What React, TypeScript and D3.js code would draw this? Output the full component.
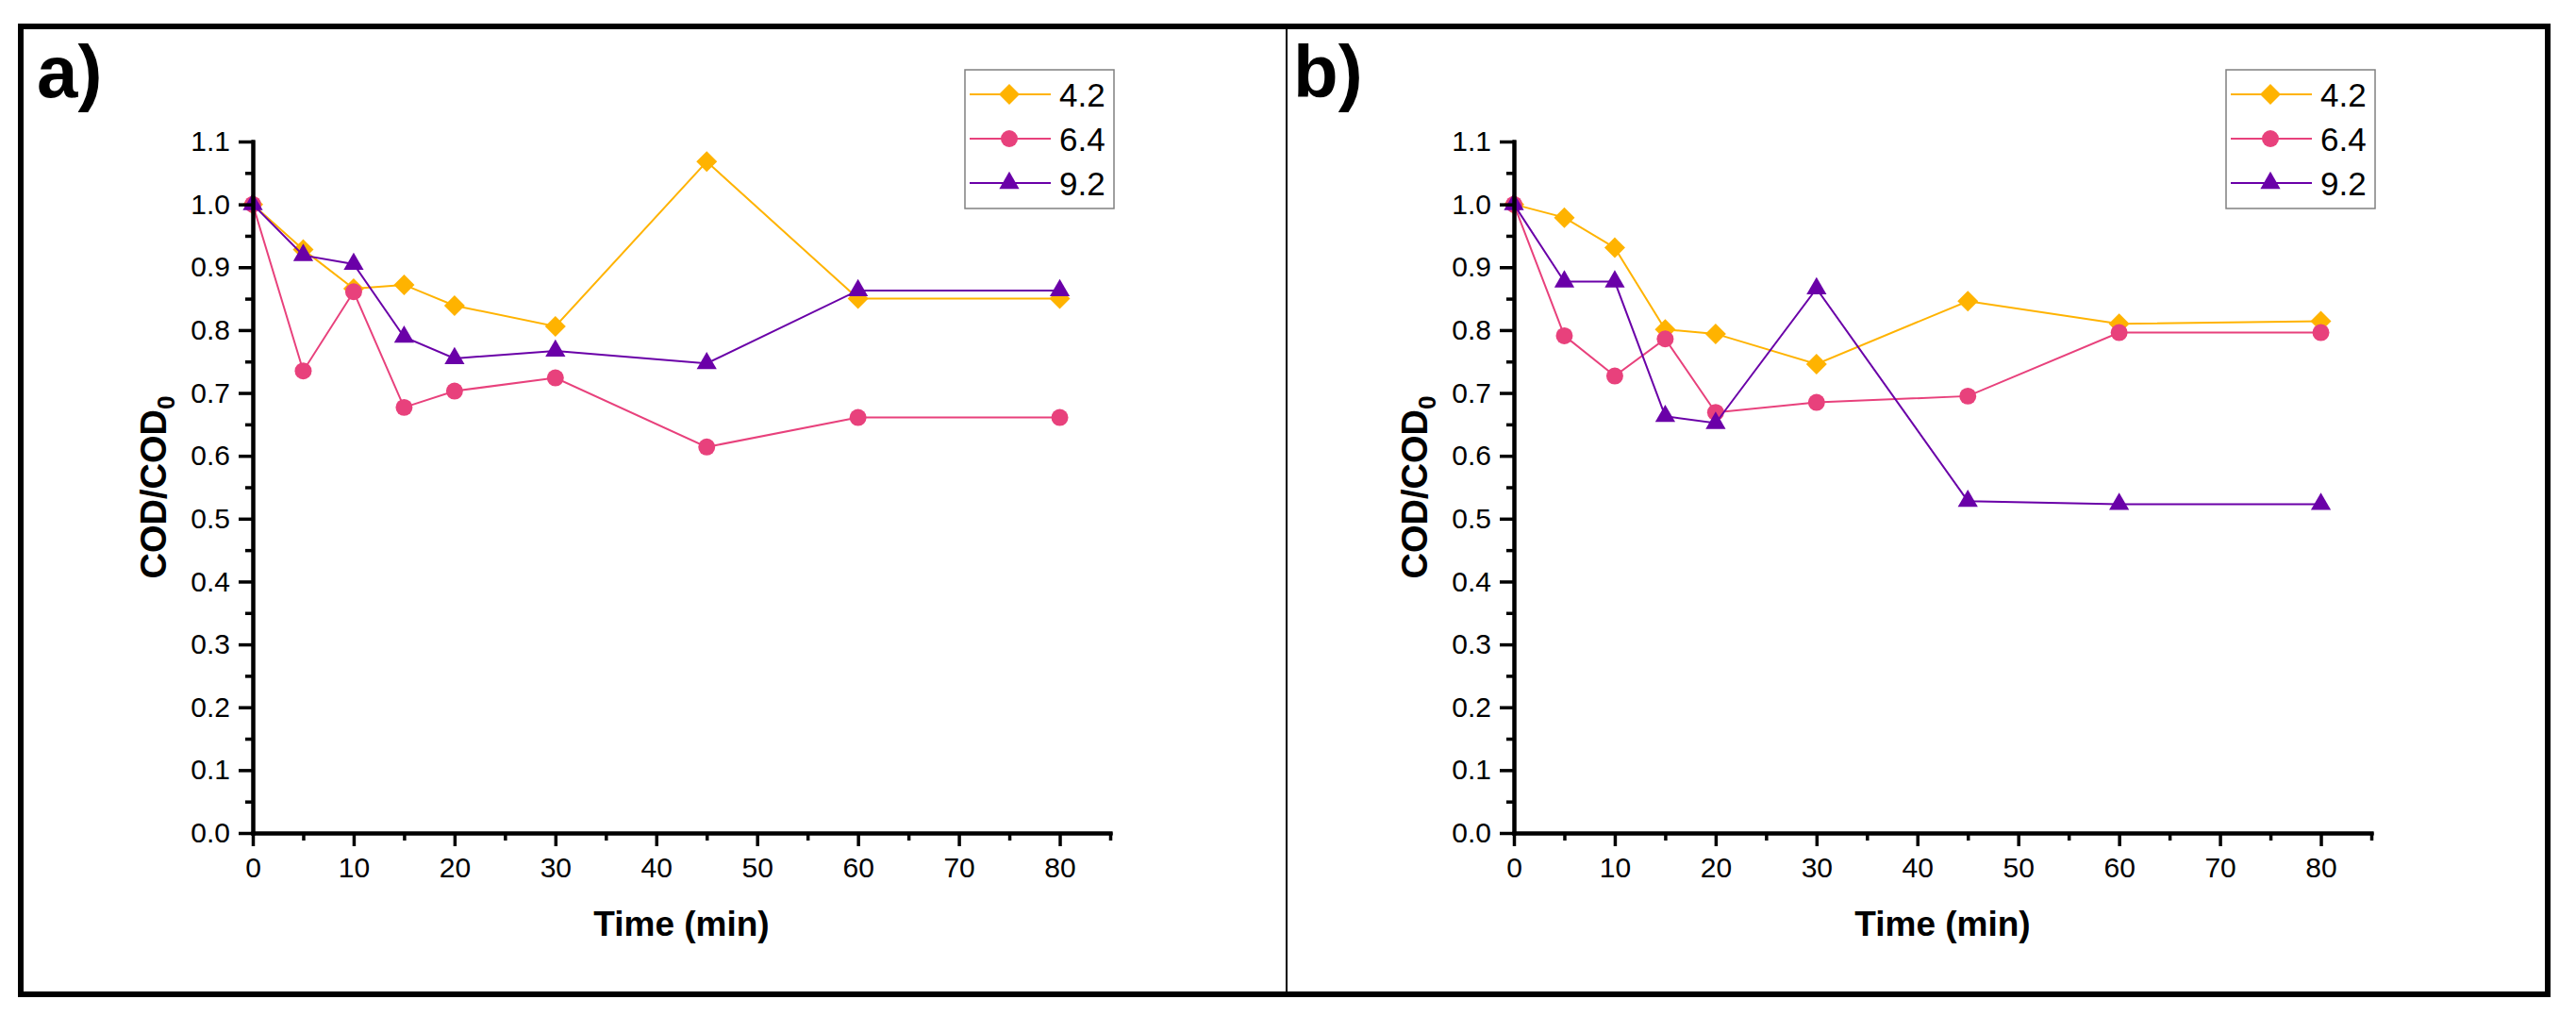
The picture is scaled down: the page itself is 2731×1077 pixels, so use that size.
import { useRef, useEffect } from 'react';
import * as d3 from 'd3';

// sampling times (min), shared by every series
const times = [0, 5, 10, 15, 20, 30, 45, 60, 80];
const seriesNames = ['4.2', '6.4', '9.2'];
const seriesColors = ['#FFB300', '#E8417C', '#6A00A8'];

// panel a) COD/COD0
const a42 = [1.0, 0.928, 0.866, 0.872, 0.839, 0.806, 1.068, 0.85, 0.85];
const a64 = [1.0, 0.735, 0.861, 0.677, 0.703, 0.724, 0.614, 0.661, 0.661];
const a92 = [1.0, 0.919, 0.905, 0.789, 0.755, 0.767, 0.747, 0.863, 0.863];

// panel b) COD/COD0
const b42 = [1.0, 0.979, 0.931, 0.801, 0.794, 0.746, 0.846, 0.81, 0.814];
const b64 = [1.0, 0.791, 0.727, 0.786, 0.669, 0.685, 0.695, 0.796, 0.796];
const b92 = [1.0, 0.877, 0.877, 0.663, 0.652, 0.866, 0.528, 0.523, 0.523];

const yTicks = [0, 0.1, 0.2, 0.3, 0.4, 0.5, 0.6, 0.7, 0.8, 0.9, 1.0, 1.1];
const yMinor = [0.05, 0.15, 0.25, 0.35, 0.45, 0.55, 0.65, 0.75, 0.85, 0.95, 1.05];
const xTicks = [0, 10, 20, 30, 40, 50, 60, 70, 80];
const xMinor = [5, 15, 25, 35, 45, 55, 65, 75, 85];

const FONT = '"Liberation Sans", Arial, Helvetica, sans-serif';

function drawPanel(
    svg: d3.Selection<SVGSVGElement, unknown, null, undefined>,
    left: number,
    tag: string,
    tagX: number,
    data: number[][]
) {
    const top = 150, bottom = 883, width = 909;

    const x = d3.scaleLinear().domain([0, 85]).range([left, left + width]);
    const y = d3.scaleLinear().domain([0, 1.1]).range([bottom, top]);

    const g = svg.append('g');

    // panel letter
    svg.append('text')
        .attr('x', tagX)
        .attr('y', 103)
        .style('font-family', FONT)
        .style('font-size', '78px')
        .style('font-weight', 'bold')
        .text(tag);

    // data: line then symbols, series by series
    const line = d3.line<number>()
        .x((_, i) => x(times[i]))
        .y(d => y(d));

    const symbols = [
        d3.symbol().type(d3.symbolSquare).size(242),
        d3.symbol().type(d3.symbolCircle).size(254),
        d3.symbol().type(d3.symbolTriangle).size(195),
    ];

    data.forEach((vals, s) => {
        g.append('path')
            .datum(vals)
            .attr('d', line)
            .attr('fill', 'none')
            .attr('stroke', seriesColors[s])
            .attr('stroke-width', 2);

        g.selectAll(null)
            .data(vals)
            .enter()
            .append('path')
            .attr('d', symbols[s]())
            .attr('transform', (d, i) =>
                `translate(${x(times[i])},${y(d)})` + (s === 0 ? ' rotate(45)' : ''))
            .attr('fill', seriesColors[s]);
    });

    // axes
    const yMinorAxis = d3.axisLeft(y).tickValues(yMinor).tickSize(8).tickSizeOuter(0).tickFormat(() => '');
    const yAxis = d3.axisLeft(y).tickValues(yTicks).tickSize(15).tickSizeOuter(0)
        .tickPadding(9).tickFormat(d3.format('.1f'));
    const xMinorAxis = d3.axisBottom(x).tickValues(xMinor).tickSize(8).tickSizeOuter(0).tickFormat(() => '');
    const xAxis = d3.axisBottom(x).tickValues(xTicks).tickSize(14).tickSizeOuter(0)
        .tickPadding(12).tickFormat(d3.format('d'));

    const axes = [
        svg.append('g').attr('transform', `translate(${left},0)`).call(yMinorAxis),
        svg.append('g').attr('transform', `translate(${left},0)`).call(yAxis),
        svg.append('g').attr('transform', `translate(0,${bottom})`).call(xMinorAxis),
        svg.append('g').attr('transform', `translate(0,${bottom})`).call(xAxis),
    ];
    axes.forEach(a => {
        a.selectAll('.domain').attr('stroke', '#000').attr('stroke-width', 4)
            .attr('stroke-linecap', 'square');
        a.selectAll('.tick line').attr('stroke', '#000').attr('stroke-width', 3.5);
        a.selectAll('.tick text')
            .attr('fill', '#000')
            .style('font-family', FONT)
            .style('font-size', '30px');
    });

    // axis titles
    svg.append('text')
        .attr('x', left + width / 2)
        .attr('y', 992)
        .attr('text-anchor', 'middle')
        .style('font-family', FONT)
        .style('font-size', '37px')
        .style('font-weight', 'bold')
        .text('Time (min)');

    const yt = svg.append('text')
        .attr('transform', `translate(${left - 92},${(top + bottom) / 2}) rotate(-90)`)
        .attr('text-anchor', 'middle')
        .style('font-family', FONT)
        .style('font-size', '38px')
        .style('font-weight', 'bold');
    yt.append('tspan').text('COD/COD');
    yt.append('tspan').attr('dy', 9).style('font-size', '26px').text('0');

    // legend
    const lg = svg.append('g').attr('transform', `translate(${left + 755},0)`);
    lg.append('rect')
        .attr('x', 0).attr('y', 74)
        .attr('width', 158).attr('height', 147)
        .attr('fill', '#fff')
        .attr('stroke', '#808080')
        .attr('stroke-width', 1.5);
    seriesNames.forEach((name, s) => {
        const ry = 100 + s * 47;
        lg.append('line')
            .attr('x1', 5).attr('x2', 91)
            .attr('y1', ry).attr('y2', ry)
            .attr('stroke', seriesColors[s])
            .attr('stroke-width', 2);
        lg.append('path')
            .attr('d', symbols[s]())
            .attr('transform', `translate(47,${ry})` + (s === 0 ? ' rotate(45)' : ''))
            .attr('fill', seriesColors[s]);
        lg.append('text')
            .attr('x', 100)
            .attr('y', ry + 12.5)
            .style('font-family', FONT)
            .style('font-size', '35px')
            .text(name);
    });
}

export default function App() {
    const ref = useRef<SVGSVGElement>(null);

    useEffect(() => {
        if (!ref.current) return;
        const svg = d3.select(ref.current);
        svg.selectAll('*').remove();

        svg.append('rect')
            .attr('width', 2731).attr('height', 1077)
            .attr('fill', '#fff');

        // outer frame and divider
        svg.append('rect')
            .attr('x', 22).attr('y', 28)
            .attr('width', 2679).attr('height', 1026)
            .attr('fill', 'none')
            .attr('stroke', '#000')
            .attr('stroke-width', 6);
        svg.append('line')
            .attr('x1', 1364).attr('x2', 1364)
            .attr('y1', 28).attr('y2', 1054)
            .attr('stroke', '#000')
            .attr('stroke-width', 2);

        drawPanel(svg, 268, 'a)', 39, [a42, a64, a92]);
        drawPanel(svg, 1605, 'b)', 1371, [b42, b64, b92]);
    }, []);

    return (
        <svg
            ref={ref}
            width={2731}
            height={1077}
            style={{ position: 'absolute', left: 0, top: 0, display: 'block' }}
        />
    );
}
